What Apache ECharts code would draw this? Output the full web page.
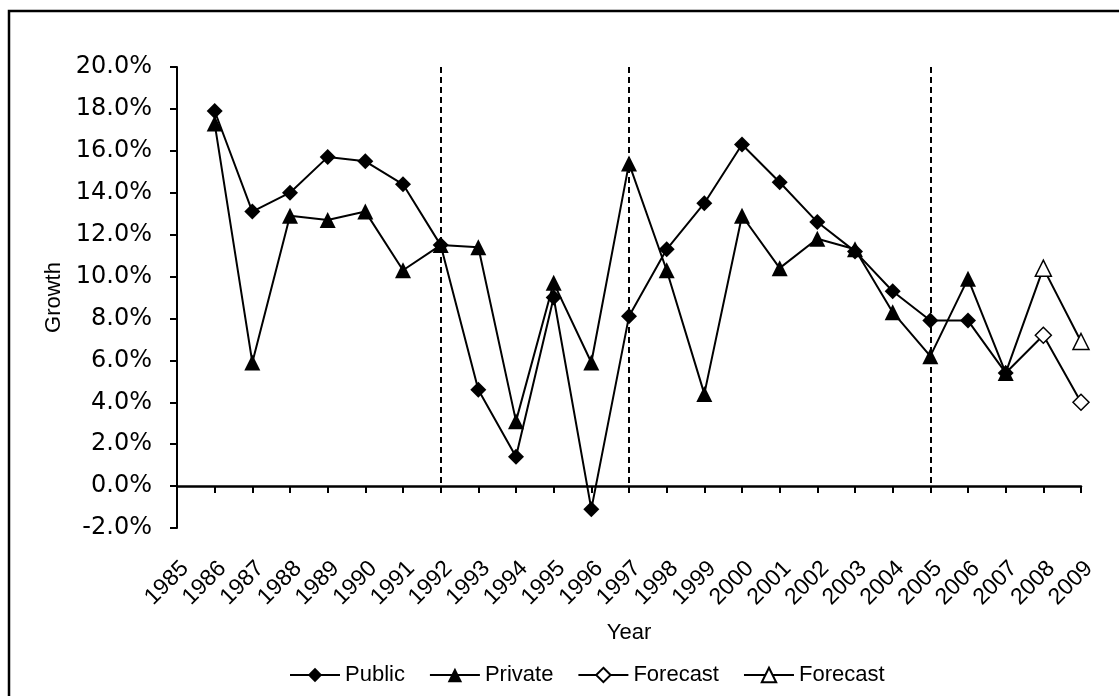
<!DOCTYPE html>
<html>
<head>
<meta charset="utf-8">
<script src="https://cdn.jsdelivr.net/npm/echarts@6/dist/echarts.min.js"></script>
<style>
html,body{margin:0;padding:0;background:#fff;}
#chart{width:1119px;height:696px;}
</style>
</head>
<body>
<div id="chart"></div>
<script>
// ---- data ----
var years = ['1985','1986','1987','1988','1989','1990','1991','1992','1993','1994','1995','1996','1997',
             '1998','1999','2000','2001','2002','2003','2004','2005','2006','2007','2008','2009'];
var publicGrowth  = [null,17.9,13.1,14.0,15.7,15.5,14.4,11.5,4.6,1.4,9.0,-1.1,8.1,
                     11.3,13.5,16.3,14.5,12.6,11.2,9.3,7.9,7.9,5.4,null,null];
var privateGrowth = [null,17.3,5.9,12.9,12.7,13.1,10.3,11.5,11.4,3.1,9.7,5.9,15.4,
                     10.3,4.4,12.9,10.4,11.8,11.3,8.3,6.2,9.9,5.4,null,null];
var publicForecast  = {'2007':5.4,'2008':7.2,'2009':4.0};
var privateForecast = {'2007':5.4,'2008':10.4,'2009':6.9};
var dividerYears = ['1992','1997','2005'];
var yTicks = {min:-2, max:20, step:2};

// ---- build ----
function forecastData(obj, firstYear) {
  return years.map(function (y) {
    if (!(y in obj)) return null;
    if (y === firstYear) return {value: obj[y], symbol: 'none'};
    return obj[y];
  });
}
var chart = echarts.init(document.getElementById('chart'), null, {renderer: 'canvas'});
var black = '#000';
var lblFont = 'Liberation Sans';
var lineW = 2;

var option = {
  animation: false,
  backgroundColor: '#fff',
  graphic: [{
    type: 'rect', silent: true, z: 100,
    shape: {x: 9, y: 11, width: 1200, height: 800},
    style: {fill: 'none', stroke: black, lineWidth: 2.5}
  }],
  grid: [
    {left: 177, right: 38, top: 67, bottom: 168},
    {left: 185, right: 30, top: 67, bottom: 168}
  ],
  legend: {
    top: 664, left: 289, padding: 0,
    itemWidth: 50, itemHeight: 18, itemGap: 24,
    textStyle: {fontFamily: lblFont, fontSize: 22, color: black},
    formatter: function (n) { return n.trim(); },
    data: ['Public', 'Private', 'Forecast', 'Forecast ']
  },
  xAxis: [{
    gridIndex: 0, type: 'category', data: years, boundaryGap: false,
    axisLine: {show: true, onZero: true, lineStyle: {color: black, width: 2.5}},
    axisTick: {show: true, interval: 0, length: 7, inside: false, lineStyle: {color: black, width: 2}},
    axisLabel: {show: false},
    splitLine: {show: false},
    name: 'Year', nameLocation: 'middle', nameGap: 94,
    nameTextStyle: {fontFamily: lblFont, fontSize: 22, color: black}
  }, {
    gridIndex: 1, type: 'category', data: years, boundaryGap: false,
    axisLine: {show: false, onZero: false},
    axisTick: {show: false},
    axisLabel: {show: true, interval: 0, rotate: 45, margin: 37,
      fontFamily: lblFont, fontSize: 23, color: black},
    splitLine: {show: false}
  }],
  yAxis: [{
    gridIndex: 0, type: 'value', min: yTicks.min, max: yTicks.max, interval: yTicks.step,
    axisLine: {show: true, onZero: false, lineStyle: {color: black, width: 2}},
    axisTick: {show: true, length: 7, inside: false, lineStyle: {color: black, width: 2}},
    axisLabel: {margin: 25, fontFamily: 'DejaVu Sans', fontSize: 24, color: black,
      formatter: function (v) { return v.toFixed(1) + '%'; }},
    splitLine: {show: false},
    name: 'Growth', nameLocation: 'middle', nameGap: 110,
    nameTextStyle: {fontFamily: lblFont, fontSize: 22, color: black}
  }, {
    gridIndex: 1, type: 'value', min: yTicks.min, max: yTicks.max, show: false
  }],
  series: [{
    name: 'Public', type: 'line', data: publicGrowth, z: 4,
    symbol: 'diamond', symbolSize: 16,
    lineStyle: {color: black, width: lineW},
    itemStyle: {color: black},
    markLine: {
      silent: true, symbol: 'none', label: {show: false},
      lineStyle: {color: black, width: 2, type: [6, 4]},
      data: dividerYears.map(function (y) {
        return [{coord: [y, yTicks.max]}, {coord: [y, 0]}];
      })
    }
  }, {
    name: 'Private', type: 'line', data: privateGrowth, z: 3,
    symbol: 'triangle', symbolSize: 16,
    lineStyle: {color: black, width: lineW},
    itemStyle: {color: black}
  }, {
    name: 'Forecast', type: 'line', data: forecastData(publicForecast, '2007'), z: 2,
    symbol: 'diamond', symbolSize: 16,
    lineStyle: {color: black, width: lineW},
    itemStyle: {color: '#fff', borderColor: black, borderWidth: 1.5}
  }, {
    name: 'Forecast ', type: 'line', data: forecastData(privateForecast, '2007'), z: 2,
    symbol: 'triangle', symbolSize: 16,
    lineStyle: {color: black, width: lineW},
    itemStyle: {color: '#fff', borderColor: black, borderWidth: 1.5}
  }]
};
chart.setOption(option);
</script>
</body>
</html>
